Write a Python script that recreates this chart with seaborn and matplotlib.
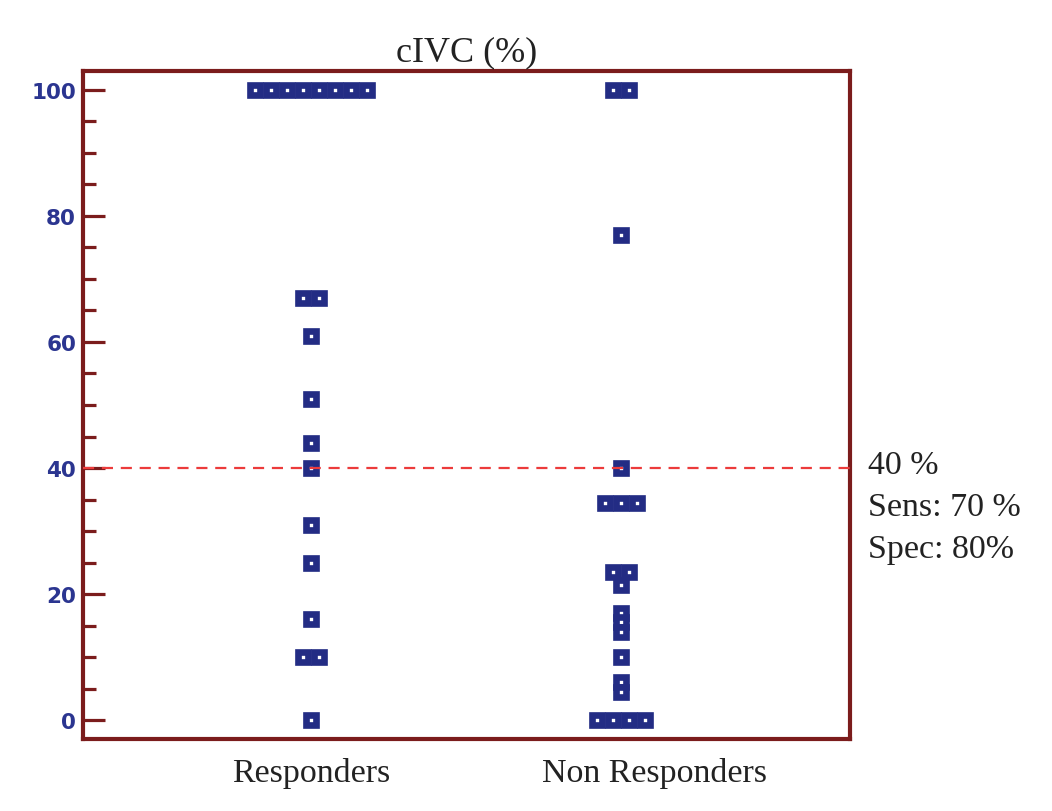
import numpy as np
import pandas as pd
import matplotlib
matplotlib.use("Agg")
import matplotlib.pyplot as plt
import seaborn as sns

# ---- data ----
categories = ["Responders", "Non Responders"]
responders = [100, 100, 100, 100, 100, 100, 100, 100,
              67, 67, 61, 51, 44, 40, 31, 25, 16, 10, 10, 0]
non_responders = [100, 100, 77, 40, 34.5, 34.5, 34.5, 23.5, 23.5, 21.5,
                  17, 15.5, 14, 10, 6, 4.5, 0, 0, 0, 0]
y_ticks = [0, 20, 40, 60, 80, 100]
cutoff = 40
title = "cIVC (%)"
annotation = ["40 %", "Sens: 70 %", "Spec: 80%"]

# ---- layout of identical values side by side (derived from data) ----
step = 0.0516
rows = []
for ci, vals in enumerate([responders, non_responders]):
    s = pd.Series(vals)
    for v, grp in s.groupby(s, sort=False):
        n = len(grp)
        for i in range(n):
            rows.append({"group": categories[ci], "x": ci + (i - (n - 1) / 2) * step, "value": v})
df = pd.DataFrame(rows)

sns.set_theme(style="white")
plt.rcParams["font.family"] = ["Liberation Serif", "DejaVu Serif"]

fig = plt.figure(figsize=(10.52, 8.12), dpi=100)
ax = fig.add_axes([83 / 1052, 1 - 740 / 812, (850 - 83) / 1052, (740 - 72) / 812])

navy = "#232c84"
dark_red = "#7b1c1c"

sns.scatterplot(data=df, x="x", y="value", marker="s", s=46,
                facecolor="white", edgecolor=navy, linewidth=4.8,
                ax=ax, legend=False, zorder=3)
for coll in ax.collections:
    coll.set_joinstyle("miter")

ax.axhline(cutoff, color="#ec3b3b", linestyle=(0, (5, 3.5)), linewidth=1.6, zorder=4)

ax.set_xlim(-0.735, 1.739)
ax.set_ylim(-3.0, 103.0)
ax.set_xticks([0, 1])
ax.set_xticklabels([])
# category labels (the second one sits slightly right of its column in the reference)
label_shift = [0, 24]
for i, cat in enumerate(categories):
    ax.annotate(cat, xy=(i, 0), xycoords=ax.get_xaxis_transform(),
                xytext=(label_shift[i], -24), textcoords="offset points",
                ha="center", va="center", fontsize=24.5, color="#222222",
                annotation_clip=False)
ax.set_yticks(y_ticks)
ax.set_yticks(np.arange(0, 101, 5), minor=True)
ax.set_yticklabels([str(t) for t in y_ticks], fontsize=15.5, fontweight="bold",
                   color="#2b3590", family="DejaVu Sans")
ax.set_xlabel("")
ax.set_ylabel("")
ax.tick_params(axis="x", length=0)
ax.tick_params(axis="y", which="major", direction="in", length=16, width=2.3,
               color=dark_red, pad=5, left=True)
ax.tick_params(axis="y", which="minor", direction="in", length=9, width=2.3,
               color=dark_red, left=True)
for sp in ax.spines.values():
    sp.set_color(dark_red)
    sp.set_linewidth(3)
    sp.set_visible(True)
ax.grid(False)

ax.set_title(title, fontsize=26, pad=8, color="#222222")

for i, line in enumerate(annotation):
    fig.text(868 / 1052, 1 - (466 + 42 * i) / 812, line, fontsize=24.5,
             va="center", ha="left", color="#222222")

fig.savefig("out.png", dpi=100, facecolor="white")
